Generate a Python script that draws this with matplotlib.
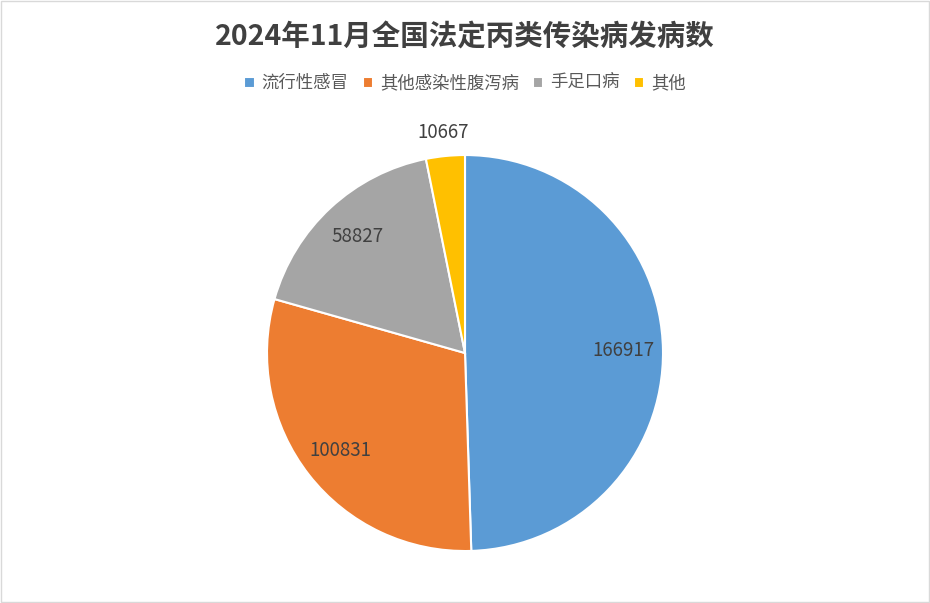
import numpy as np
import matplotlib.pyplot as plt
from matplotlib.patches import Rectangle

plt.rcParams['font.family'] = ['Noto Sans CJK SC', 'DejaVu Sans']

# 数据
categories = ['流行性感冒', '其他感染性腹泻病', '手足口病', '其他']
cases = [166917, 100831, 58827, 10667]
colors = ['#5B9BD5', '#ED7D31', '#A5A5A5', '#FFC000']

fig = plt.figure(figsize=(9.3, 6.03), dpi=100)
fig.patches.append(Rectangle((0.001, 0.001), 0.998, 0.997, transform=fig.transFigure,
                             fill=False, edgecolor='#D9D9D9', linewidth=1))

# 饼图区域 (正方形)
ax = fig.add_axes([0.2871, 0.0862, 0.4258, 0.6567])
wedges, _ = ax.pie(cases, colors=colors, startangle=90, counterclock=False,
                   wedgeprops=dict(edgecolor='white', linewidth=1.5))
ax.set_xlim(-1, 1)
ax.set_ylim(-1, 1)
ax.set_aspect('equal')

# 数值标签
for w, v in zip(wedges, cases):
    ang = np.deg2rad((w.theta1 + w.theta2) / 2)
    r = 0.8 if v / sum(cases) > 0.05 else 1.12
    ax.text(r * np.cos(ang), r * np.sin(ang), str(v), ha='center', va='center',
            fontsize=13.5, color='#404040')

fig.text(0.5, 0.937, '2024年11月全国法定丙类传染病发病数', ha='center', va='center',
         fontsize=20.5, fontweight='bold', color='#404040')

leg = fig.legend(wedges, categories, loc='center', bbox_to_anchor=(0.5, 0.862), ncol=4,
                 frameon=False, fontsize=12.5, handlelength=0.6, handleheight=0.6,
                 handletextpad=0.4, columnspacing=0.8)
for t in leg.get_texts():
    t.set_color('#595959')

fig.savefig('out.png', dpi=100)
